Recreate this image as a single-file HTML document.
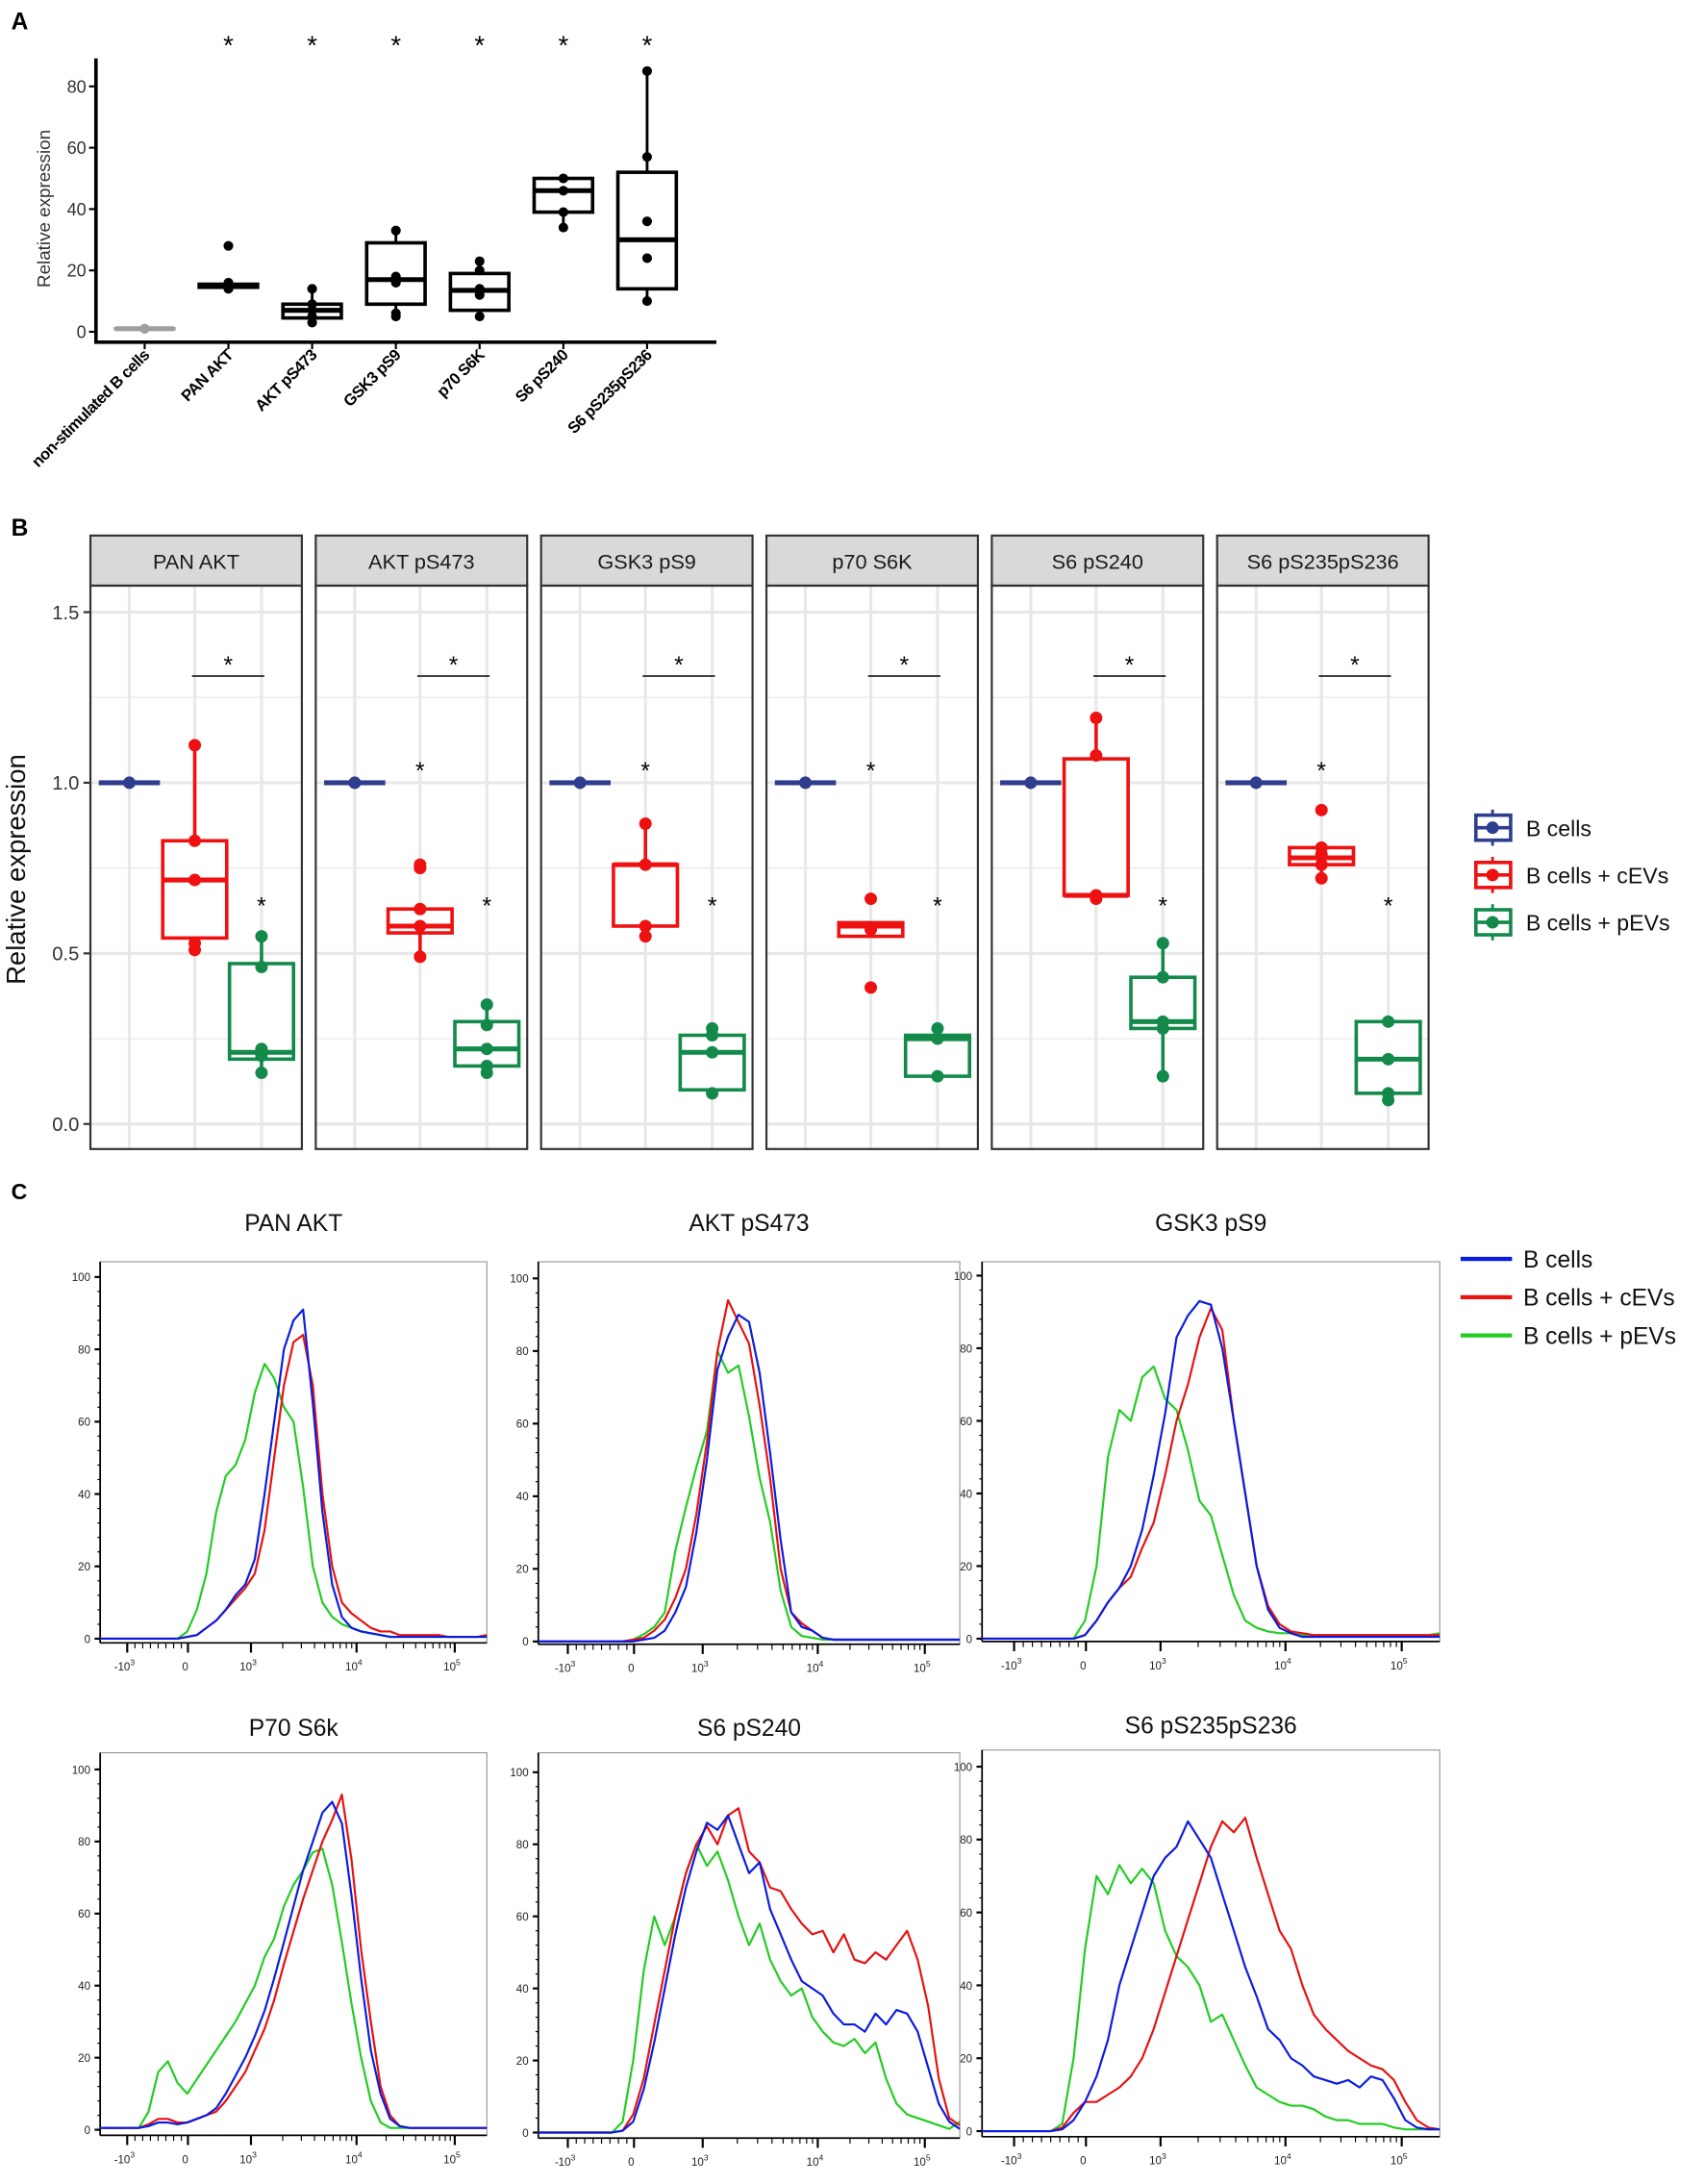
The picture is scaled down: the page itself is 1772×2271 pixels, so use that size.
<!DOCTYPE html>
<html><head><meta charset="utf-8"><style>
html,body{margin:0;padding:0;background:#fff;}
svg{display:block;font-family:"Liberation Sans",Arial,sans-serif;}
</style></head><body>
<svg id="fig" xmlns="http://www.w3.org/2000/svg" width="1772" height="2271" viewBox="0 0 1225 1570" preserveAspectRatio="none">
<rect width="1225" height="1570" fill="#fff"/>
<g id="pa"></g>
<g id="pb"></g>
<g id="pc"></g>
</svg>
<script>
// ---------- Panel A data ----------
const aCats = ["non-stimulated B cells","PAN AKT","AKT pS473","GSK3 pS9","p70 S6K","S6 pS240","S6 pS235pS236"];
const aQ1 = [1,14.5,4.5,9,7,39,14];
const aMed = [1,15,7,17,13.5,46,30];
const aQ3 = [1,15.5,9,29,19,50,52];
const aPts = [[1,1,1,1],[14,15,15,16,28],[3,5,7,9,14],[5,6,16,18,33],[5,12,14,20,23],[34,39,46,50],[10,24,36,57,85]];
const aStars = [false,true,true,true,true,true,true];
const aTicks = [0,20,40,60,80];

// ---------- Panel B data ----------
const bFacets = ["PAN AKT","AKT pS473","GSK3 pS9","p70 S6K","S6 pS240","S6 pS235pS236"];
const bGroups = ["B cells","B cells + cEVs","B cells + pEVs"];
const bRedQ1 = [0.545,0.56,0.58,0.55,0.67,0.76];
const bRedMed = [0.715,0.58,0.76,0.58,0.67,0.78];
const bRedQ3 = [0.83,0.63,0.76,0.59,1.07,0.81];
const bRedPts = [[0.51,0.53,0.715,0.83,1.11],[0.49,0.58,0.63,0.75,0.76],[0.55,0.58,0.76,0.88],[0.40,0.57,0.66],[0.66,0.67,1.08,1.19],[0.72,0.76,0.79,0.81,0.92]];
const bGrnQ1 = [0.19,0.17,0.10,0.14,0.28,0.09];
const bGrnMed = [0.21,0.22,0.21,0.25,0.30,0.19];
const bGrnQ3 = [0.47,0.30,0.26,0.26,0.43,0.30];
const bGrnPts = [[0.15,0.2,0.22,0.46,0.55],[0.15,0.17,0.22,0.29,0.35],[0.09,0.21,0.26,0.28],[0.14,0.25,0.28],[0.14,0.28,0.30,0.43,0.53],[0.07,0.09,0.19,0.30]];
const bRedStar = [false,true,true,true,false,true];
const bTicks = [0.0,0.5,1.0,1.5];

// ---------- Panel C data (channel 0..1000 step 25, % of max) ----------
const cTitles = ["PAN AKT","AKT pS473","GSK3 pS9","P70 S6k","S6 pS240","S6 pS235pS236"];
const cChannels = [0,25,50,75,100,125,150,175,200,225,250,275,300,325,350,375,400,425,450,475,500,525,550,575,600,625,650,675,700,725,750,775,800,825,850,875,900,925,950,975,1000];
const cBlue = [
[0,0,0,0,0,0,0,0,0,0.5,1,3,5,8,12,15,22,40,60,80,88,91,65,35,15,6,3,2,1.5,1,0.5,0.5,0.5,0.5,0.5,0.5,0.5,0.5,0.5,0.5,0.5],
[0,0,0,0,0,0,0,0,0,0,0.5,1,3,8,15,30,50,75,84,90,88,74,52,28,8,4,3,1,0.5,0.5,0.5,0.5,0.5,0.5,0.5,0.5,0.5,0.5,0.5,0.5,0.5],
[0,0,0,0,0,0,0,0,0,1,5,10,14,20,30,45,62,83,89,93,92,80,60,40,20,8,3,1.5,0.5,0.5,0.5,0.5,0.5,0.5,0.5,0.5,0.5,0.5,0.5,0.5,0.5],
[0.5,0.5,0.5,0.5,0.5,1,2,2,1.5,2,3,4,6,10,15,20,26,33,42,52,62,72,80,88,91,85,65,42,22,10,3,1,0.5,0.5,0.5,0.5,0.5,0.5,0.5,0.5,0.5],
[0,0,0,0,0,0,0,0,0.5,3,12,25,40,55,68,78,86,84,88,80,72,75,62,55,48,42,40,38,33,30,30,28,33,30,34,33,28,18,8,3,1],
[0,0,0,0,0,0,0,0.5,3,8,15,25,40,50,60,70,75,78,85,80,75,65,55,45,37,28,25,20,18,15,14,13,14,12,15,14,9,3,1,0.5,0.5]];
const cRed = [
[0,0,0,0,0,0,0,0,0,0.5,1,3,5,8,11,14,18,30,50,70,82,84,70,40,20,10,7,5,3,2,2,1,1,1,1,1,0.5,0.5,0.5,0.5,1],
[0,0,0,0,0,0,0,0,0,0.5,1,3,6,12,20,35,55,80,94,88,82,65,45,20,8,5,3,1,0.5,0.5,0.5,0.5,0.5,0.5,0.5,0.5,0.5,0.5,0.5,0.5,0.5],
[0,0,0,0,0,0,0,0,0,1,5,10,14,17,25,32,45,60,70,83,91,85,60,40,20,9,4,2,1.5,1,1,1,1,1,1,1,1,1,1,1,1],
[0.5,0.5,0.5,0.5,0.5,1.5,3,3,2,2,3,4,5,8,12,16,22,28,36,46,55,64,72,80,86,93,75,50,30,12,4,1,0.5,0.5,0.5,0.5,0.5,0.5,0.5,0.5,0.5],
[0,0,0,0,0,0,0,0,0.5,5,15,30,45,60,72,80,85,80,88,90,78,75,68,67,62,58,55,56,50,55,48,47,50,48,52,56,48,35,15,4,2],
[0,0,0,0,0,0,0,1,5,8,8,10,12,15,20,28,38,48,58,68,78,85,82,86,75,65,55,50,40,32,28,25,22,20,18,17,14,8,3,1,0.5]];
const cGreen = [
[0,0,0,0,0,0,0,0,0,2,8,18,35,45,48,55,68,76,72,64,60,42,20,10,6,4,3,2,1.5,1,0.5,0.5,0.5,0.5,0.5,0.5,0.5,0.5,0.5,0.5,0.5],
[0,0,0,0,0,0,0,0,0,0.5,2,4,8,25,37,48,58,80,74,76,62,45,33,14,4,1.5,1,0.5,0.5,0.5,0.5,0.5,0.5,0.5,0.5,0.5,0.5,0.5,0.5,0.5,0.5],
[0,0,0,0,0,0,0,0,0,5,20,50,63,60,72,75,66,63,52,38,34,23,12,5,3,2,1.5,1.5,1,1,1,1,1,1,1,1,1,1,1,1,1.5],
[0.5,0.5,0.5,0.5,0.5,5,16,19,13,10,14,18,22,26,30,35,40,48,53,62,68,72,77,78,68,52,35,20,8,2,0.5,0.5,0.5,0.5,0.5,0.5,0.5,0.5,0.5,0.5,0.5],
[0,0,0,0,0,0,0,0,3,20,45,60,52,60,72,80,74,78,70,60,52,58,48,42,38,40,32,28,25,24,26,22,25,15,8,5,4,3,2,1,3],
[0,0,0,0,0,0,0,2,20,50,70,65,73,68,72,68,55,48,45,40,30,32,25,18,12,10,8,7,7,6,4,3,3,2,2,2,1,0.5,0.5,0.5,0.5]];
const cYTicks = [0,20,40,60,80,100];
const cXTickVals = ["-10","0","10","10","10"];
const cXTickExp = ["3","","3","4","5"];
const cXTickFrac = [0.07,0.227,0.39,0.663,0.917];

const NS="http://www.w3.org/2000/svg";
function mk(parent,tag,attrs,text){const e=document.createElementNS(NS,tag);for(const k in attrs)e.setAttribute(k,attrs[k]);if(text!==undefined)e.textContent=text;parent.appendChild(e);return e;}
function whiskers(pts,q1,q3){const iqr=q3-q1;const inr=pts.filter(p=>p>=q1-1.5*iqr-1e-9&&p<=q3+1.5*iqr+1e-9);return [Math.min(q1,...inr),Math.max(q3,...inr)];}

// ---------- Panel A ----------
(function(){
const g=document.getElementById('pa');
let t=mk(g,'text',{x:8,y:21,'font-size':17,'font-weight':'bold'},'A');

const ya=v=>238.5-2.205*v;
const xa=i=>104+i*60.2;
let ax=mk(g,'path',{d:'M69 42 V246 H515',fill:'none',stroke:'#000','stroke-width':2.5});

aTicks.forEach(v=>{mk(g,'line',{x1:64,x2:69,y1:ya(v),y2:ya(v),stroke:'#000','stroke-width':1.5});
 const l=mk(g,'text',{x:62,y:ya(v)+4.5,'font-size':12.5,'text-anchor':'end',fill:'#333'},v);
 });
t=mk(g,'text',{x:0,y:0,'font-size':13,'text-anchor':'middle',fill:'#333',transform:'translate(36,150) rotate(-90)'},'Relative expression');

aCats.forEach((c,i)=>{const x=xa(i);
 mk(g,'line',{x1:x,x2:x,y1:246,y2:251,stroke:'#000','stroke-width':1.5});
 const l=mk(g,'text',{x:0,y:0,'font-size':11.5,'font-weight':'bold','text-anchor':'end','letter-spacing':'-0.4',transform:`translate(${x+4},256) rotate(-45)`},c);
 
 const col=i===0?'#9e9e9e':'#000';
 const bg=mk(g,'g',{});
 const [lo,hi]=whiskers(aPts[i],aQ1[i],aQ3[i]);
 mk(bg,'line',{x1:x,x2:x,y1:ya(lo),y2:ya(hi),stroke:col,'stroke-width':2});
 mk(bg,'rect',{x:x-21,y:ya(aQ3[i]),width:42,height:Math.max(ya(aQ1[i])-ya(aQ3[i]),0.1),fill:'#fff',stroke:col,'stroke-width':2.5});
 mk(bg,'line',{x1:x-21,x2:x+21,y1:ya(aMed[i]),y2:ya(aMed[i]),stroke:col,'stroke-width':3.5});
 aPts[i].forEach(p=>mk(bg,'circle',{cx:x,cy:ya(p),r:3.5,fill:col}));
 if(aStars[i]){const s=mk(g,'text',{x:x,y:39,'font-size':19,'text-anchor':'middle'},'*');}
});
})();

// ---------- Panel B ----------
(function(){
const g=document.getElementById('pb');
let t=mk(g,'text',{x:8,y:385,'font-size':17,'font-weight':'bold'},'B');

const yb=v=>808-245.3*v;
const top=421, bot=826;
t=mk(g,'text',{x:0,y:0,'font-size':19,'text-anchor':'middle',fill:'#111',transform:'translate(18,625) rotate(-90)'},'Relative expression');

bTicks.forEach(v=>{mk(g,'line',{x1:60,x2:65,y1:yb(v),y2:yb(v),stroke:'#333','stroke-width':1.5});
 const l=mk(g,'text',{x:57,y:yb(v)+5,'font-size':14,'text-anchor':'end',fill:'#333'},v.toFixed(1));
 });
const cols=['#2e3d8f','#ee1111','#13894a'];
bFacets.forEach((f,i)=>{
 const x0=65+i*162, w=152;
 const pg=mk(g,'g',{});
 [0.25,0.75,1.25].forEach(v=>mk(pg,'line',{x1:x0,x2:x0+w,y1:yb(v),y2:yb(v),stroke:'#ededed','stroke-width':1.2}));
 bTicks.forEach(v=>mk(pg,'line',{x1:x0,x2:x0+w,y1:yb(v),y2:yb(v),stroke:'#e8e8e8','stroke-width':2.2}));
 const px=[x0+28,x0+75,x0+123];
 px.forEach(x=>mk(pg,'line',{x1:x,x2:x,y1:top,y2:bot,stroke:'#e8e8e8','stroke-width':2.2}));
 const st=mk(pg,'rect',{x:x0,y:385,width:w,height:36,fill:'#d9d9d9',stroke:'#333','stroke-width':1.5});
 
 const sl=mk(pg,'text',{x:x0+w/2,y:409,'font-size':15,'text-anchor':'middle',fill:'#1a1a1a'},f);
 
 mk(pg,'line',{x1:px[0]-22,x2:px[0]+22,y1:yb(1),y2:yb(1),stroke:cols[0],'stroke-width':3.5});
 mk(pg,'circle',{cx:px[0],cy:yb(1),r:4.5,fill:cols[0]});
 const drawBox=(x,q1,md,q3,pts,col,name)=>{const bg=mk(pg,'g',{});
  const [lo,hi]=whiskers(pts,q1,q3);
  mk(bg,'line',{x1:x,x2:x,y1:yb(lo),y2:yb(hi),stroke:col,'stroke-width':2.5});
  mk(bg,'rect',{x:x-23,y:yb(q3),width:46,height:Math.max(yb(q1)-yb(q3),0.1),fill:'#fff',stroke:col,'stroke-width':2.5});
  mk(bg,'line',{x1:x-23,x2:x+23,y1:yb(md),y2:yb(md),stroke:col,'stroke-width':3.5});
  pts.forEach(p=>mk(bg,'circle',{cx:x,cy:yb(p),r:4.5,fill:col}));};
 drawBox(px[1],bRedQ1[i],bRedMed[i],bRedQ3[i],bRedPts[i],cols[1],'b-box-cevs');
 drawBox(px[2],bGrnQ1[i],bGrnMed[i],bGrnQ3[i],bGrnPts[i],cols[2],'b-box-pevs');
 mk(pg,'rect',{x:x0,y:top,width:w,height:bot-top,fill:'none',stroke:'#333','stroke-width':1.5});
 mk(pg,'line',{x1:px[1]-2,x2:px[2]+2,y1:486,y2:486,stroke:'#000','stroke-width':1});
 let s=mk(pg,'text',{x:(px[1]+px[2])/2,y:484,'font-size':17,'text-anchor':'middle'},'*');
 if(bRedStar[i]){s=mk(pg,'text',{x:px[1],y:560,'font-size':17,'text-anchor':'middle'},'*');}
 s=mk(pg,'text',{x:px[2],y:657,'font-size':17,'text-anchor':'middle'},'*');
});
bGroups.forEach((n,i)=>{const y=595+i*34;const lg=mk(g,'g',{});
 mk(lg,'line',{x1:1073,x2:1073,y1:y-13,y2:y+13,stroke:cols[i],'stroke-width':2});
 mk(lg,'rect',{x:1061,y:y-9,width:25,height:18,fill:'#fff',stroke:cols[i],'stroke-width':2.5});
 mk(lg,'line',{x1:1061,x2:1086,y1:y,y2:y,stroke:cols[i],'stroke-width':2.5});
 mk(lg,'circle',{cx:1073,cy:y,r:4.5,fill:cols[i]});
 mk(lg,'text',{x:1097,y:y+6,'font-size':16,fill:'#111'},n);});
})();

// ---------- Panel C ----------
(function(){
const g=document.getElementById('pc');
let t=mk(g,'text',{x:8,y:862,'font-size':16,'font-weight':'bold'},'C');

const frames=[[72,350,907,1181,918,1178],[387,690,907,1182,919,1180],[706,1035,907,1180,917,1178],[72,350,1260,1535,1272,1531],[387,690,1260,1537,1274,1533],[706,1035,1258,1536,1270,1532]];
const titleY=[885,885,885,1248,1248,1246];
const colsC=['#0a1be0','#e81010','#22cc22'];
cTitles.forEach((ti,i)=>{
 const [xl,xr,yt,yax,y100,y0]=frames[i];
 const pg=mk(g,'g',{});
 const xs=c=>xl+(xr-xl)*c/1000;
 const ys=v=>y0-(y0-y100)*v/100;
 const tl=mk(pg,'text',{x:(xl+xr)/2,y:titleY[i],'font-size':17,'text-anchor':'middle',fill:'#111'},ti);
 
 mk(pg,'rect',{x:xl,y:yt,width:xr-xl,height:yax-yt,fill:'none',stroke:'#999','stroke-width':0.8});
 mk(pg,'line',{x1:xl,x2:xl,y1:yt,y2:yax,stroke:'#000','stroke-width':1.2});
 mk(pg,'line',{x1:xl,x2:xr,y1:yax,y2:yax,stroke:'#000','stroke-width':1.2});
 for(let v=0;v<=100;v+=4){mk(pg,'line',{x1:xl-(v%20===0?4:2),x2:xl,y1:ys(v),y2:ys(v),stroke:'#000','stroke-width':v%20===0?1.5:0.8});}
 cYTicks.forEach(v=>{const l=mk(pg,'text',{x:xl-7,y:ys(v)+3,'font-size':8,'text-anchor':'end',fill:'#222'},v);});
 cXTickFrac.forEach((f,k)=>{const x=xl+(xr-xl)*f;
  mk(pg,'line',{x1:x,x2:x,y1:yax,y2:yax+7,stroke:'#000','stroke-width':1.5});
  const l=mk(pg,'text',{x:x-2,y:yax+20,'font-size':8,'text-anchor':'middle',fill:'#222'},cXTickVals[k]);
  
  if(cXTickExp[k]){mk(l,'tspan',{dy:-4,'font-size':6},cXTickExp[k]);}
  if(k>1&&k<4){for(let m=2;m<=9;m++){const xm=x+(xl+(xr-xl)*cXTickFrac[k+1]-x)*Math.log10(m);mk(pg,'line',{x1:xm,x2:xm,y1:yax,y2:yax+4,stroke:'#000','stroke-width':0.8});}}
 });
 for(let m=1;m<8;m++){const x=xl+(xr-xl)*(0.07+m*0.02);mk(pg,'line',{x1:x,x2:x,y1:yax,y2:yax+4,stroke:'#000','stroke-width':0.8});}
 [[cGreen,2,'c-curve-pevs'],[cRed,1,'c-curve-cevs'],[cBlue,0,'c-curve-bcells']].forEach(([arr,ci,nm])=>{
  const d=cChannels.map((c,k)=>(k?'L':'M')+xs(c).toFixed(1)+' '+ys(arr[i][k]).toFixed(1)).join(' ');
  const p=mk(pg,'path',{d:d,fill:'none',stroke:colsC[ci],'stroke-width':1.5,'stroke-linejoin':'round'});
  });
});
const names=['B cells','B cells + cEVs','B cells + pEVs'];
names.forEach((n,i)=>{const y=905+i*27.5;const lg=mk(g,'g',{});
 mk(lg,'line',{x1:1050,x2:1087,y1:y,y2:y,stroke:colsC[i],'stroke-width':3});
 mk(lg,'text',{x:1095,y:y+6,'font-size':17,fill:'#111'},n);});
})();
</script>
</body></html>
